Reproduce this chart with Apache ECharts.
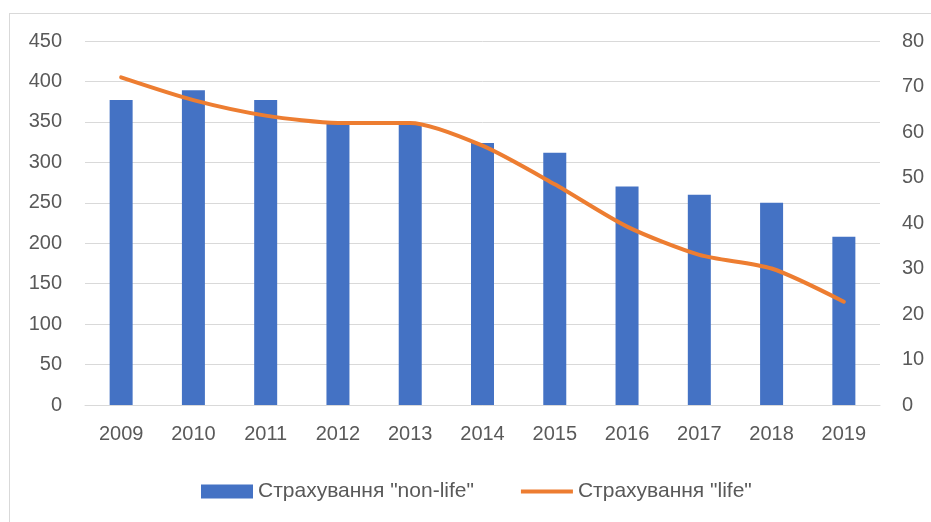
<!DOCTYPE html>
<html>
<head>
<meta charset="utf-8">
<script src="https://cdn.jsdelivr.net/npm/echarts@6/dist/echarts.min.js"></script>
<style>
  html, body { margin: 0; padding: 0; background: #fff; }
  #frame {
    position: absolute; left: 9px; top: 13px;
    width: 1000px; height: 600px;
    border: 1px solid #d9d9d9;
  }
  #chart { position: absolute; left: 0; top: 0; width: 931px; height: 522px; }
</style>
</head>
<body>
<div id="frame"></div>
<div id="chart"></div>
<script>
// роки
const years = ['2009', '2010', '2011', '2012', '2013', '2014', '2015', '2016', '2017', '2018', '2019'];
// Страхування "non-life" (ліва вісь)
const nonLife = [377, 389, 377, 349, 348, 324, 312, 270, 260, 250, 208];
// Страхування "life" (права вісь)
const life = [72, 67, 63.6, 62, 62, 57, 48.5, 39.2, 33, 30, 22.7];

const nonLifeName = 'Страхування "non-life"';
const lifeName = 'Страхування "life"';

const textColor = '#595959';
const fontFamily = '"Liberation Sans", Arial, sans-serif';

let chart = echarts.init(document.getElementById('chart'));

const option = {
  animation: false,
  textStyle: { fontFamily: fontFamily },
  grid: { left: 85, right: 51, top: 41, bottom: 117 },
  legend: {
    top: 476,
    left: 196,
    itemWidth: 52,
    itemHeight: 14,
    itemGap: 47,
    textStyle: { color: textColor, fontSize: 21, fontFamily: fontFamily },
    data: [
      { name: nonLifeName, icon: 'rect' },
      { name: lifeName, icon: 'path://M0,0 H54 V4 H0 Z' }
    ]
  },
  xAxis: {
    type: 'category',
    data: years,
    axisTick: { show: false },
    axisLine: { lineStyle: { color: '#d9d9d9', width: 1 } },
    axisLabel: { color: textColor, fontSize: 20, margin: 19 }
  },
  yAxis: [
    {
      type: 'value',
      min: 0, max: 450, interval: 50,
      axisLabel: { color: textColor, fontSize: 20, margin: 23 },
      splitLine: { lineStyle: { color: '#d9d9d9', width: 1 } },
      axisLine: { show: false },
      axisTick: { show: false }
    },
    {
      type: 'value',
      min: 0, max: 80, interval: 10,
      position: 'right',
      axisLabel: { color: textColor, fontSize: 20, margin: 22 },
      splitLine: { show: false },
      axisLine: { show: false },
      axisTick: { show: false }
    }
  ],
  series: [
    {
      name: nonLifeName,
      type: 'bar',
      data: nonLife,
      barWidth: 23,
      itemStyle: { color: '#4472C4' }
    },
    {
      name: lifeName,
      type: 'line',
      yAxisIndex: 1,
      data: life,
      smooth: 0.25,
      symbol: 'none',
      lineStyle: { color: '#ED7D31', width: 4, cap: 'round', join: 'round' },
      itemStyle: { color: '#ED7D31' }
    }
  ]
};

chart.setOption(option);
</script>
</body>
</html>
